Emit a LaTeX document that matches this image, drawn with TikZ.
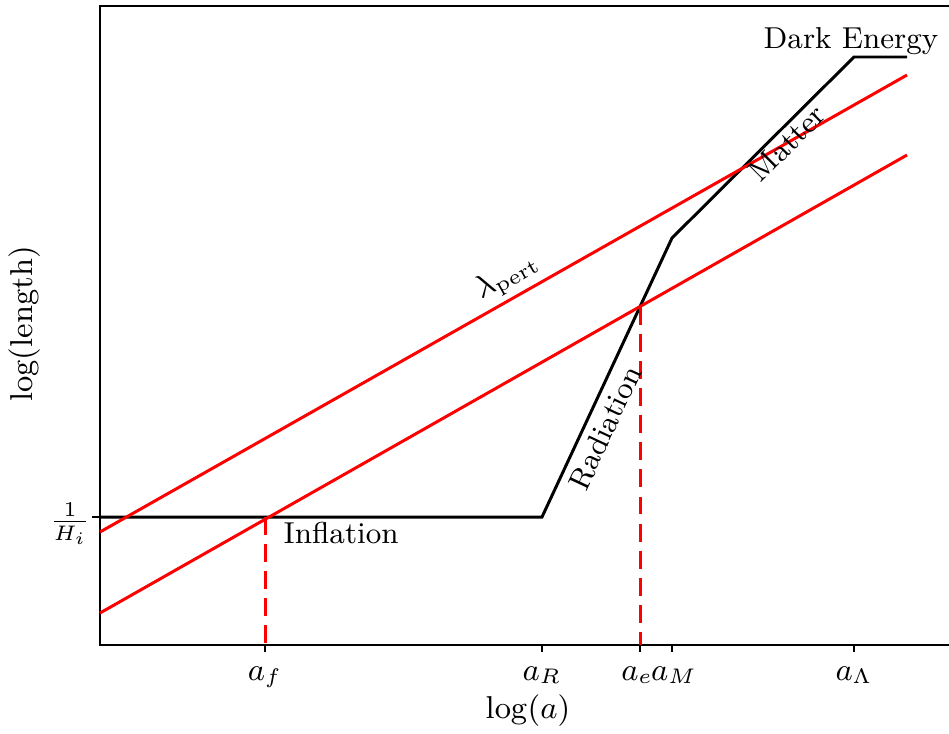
\documentclass[tikz,border=0pt]{standalone}
\begin{document}
\begin{tikzpicture}[x=0.01cm, y=-0.01cm, every node/.style={font=\fontsize{8.6}{10.3}\selectfont},
  ax/.style={line width=0.5pt},
  stage/.style={line width=0.85pt,black,line join=miter},
  mode/.style={line width=0.85pt,red},
  cross/.style={line width=0.85pt,red,dash pattern=on 5.1pt off 2.6pt}]
\useasboundingbox (0,0) rectangle (949,733);
% frame
\draw[ax] (949,6) -- (100,6) -- (100,645) -- (949,645);
% ticks
\foreach \xx/\lx/\lab in {265/265/a_f, 542/542/a_R, 640/637/a_e, 672/674/a_M, 854/854/a_\Lambda}{
  \draw[ax] (\xx,645) -- (\xx,652);
  \node[anchor=base,inner sep=0pt] (t\xx) at (\lx,680) {$\lab$};}
\draw[ax] (100,517) -- (92,517);
\node[anchor=east,inner sep=0pt] (hinv) at (91,524) {$\frac{1}{H_i}$};
\node[anchor=base,inner sep=0pt] (xlab) at (528,718) {$\log(a)$};
\node[rotate=90,anchor=base,inner sep=0pt] (ylab) at (32,324) {$\log(\mathrm{length})$};
% horizon
\coordinate (rs) at (542,517);
\coordinate (ms) at (672,238);
\coordinate (ds) at (854,57);
\draw[stage] (100,517) -- (rs) -- (ms) -- (ds) -- (907,57);
% modes
\coordinate (af) at (265,517);
\coordinate (ae) at (640,307);
\draw[mode] (100,532) -- (907,75);
\draw[mode] (100,613) -- (907,155);
\draw[cross] (af) -- (265,645);
\draw[cross] (ae) -- (640,645);
% labels
\node[anchor=base west,inner sep=0pt] (infl) at (283,543) {Inflation};
\node[rotate=65,anchor=north,inner sep=0.5pt] (rad) at (593,422) {Radiation};
\node[rotate=45] (mat) at (787,143) {Matter};
\node[anchor=base,inner sep=0pt] (de) at (851,48) {Dark Energy};
\node[rotate=29.5] (lam) at (507,277) {$\lambda_{\rm pert}$};
\end{tikzpicture}
\end{document}
